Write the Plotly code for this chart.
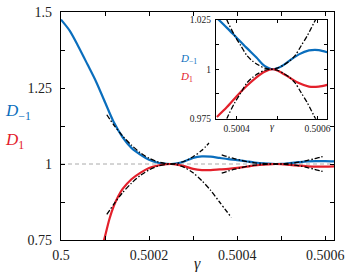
import plotly.graph_objects as go

# ---------------- data ----------------
# main panel: D_{-1} (blue)
G_BLUE = [0.5, 0.50002, 0.50004, 0.50006, 0.50008, 0.5001, 0.50012, 0.50014, 0.50016,
          0.50018, 0.5002, 0.50022, 0.50024, 0.50025, 0.50026, 0.50028, 0.5003, 0.50032,
          0.50034, 0.50036, 0.50038, 0.5004, 0.50042, 0.50044, 0.50046, 0.50048, 0.5005,
          0.50052, 0.50054, 0.50056, 0.50058, 0.5006, 0.50062]
D_MINUS1 = [1.475, 1.438, 1.385, 1.328, 1.270, 1.203, 1.137, 1.088, 1.053,
            1.031, 1.014, 1.004, 1.0005, 1.0, 1.001, 1.008, 1.020, 1.025,
            1.024, 1.020, 1.016, 1.013, 1.009, 1.005, 1.002, 1.0002, 1.0005,
            1.003, 1.006, 1.0085, 1.0095, 1.0095, 1.0088]

# main panel: D_1 (red)
G_RED = [0.500095, 0.5001, 0.50011, 0.50012, 0.50013, 0.50014, 0.50016, 0.50018, 0.5002,
         0.50022, 0.50024, 0.50025, 0.50026, 0.50028, 0.5003, 0.50032, 0.50034, 0.50036,
         0.50038, 0.5004, 0.50042, 0.50044, 0.50046, 0.50048, 0.5005, 0.50052, 0.50054,
         0.50056, 0.50058, 0.5006, 0.50062]
D_PLUS1 = [0.735, 0.762, 0.819, 0.862, 0.894, 0.918, 0.950, 0.971, 0.987,
           0.995, 0.9993, 1.0, 0.999, 0.993, 0.984, 0.980, 0.980, 0.982,
           0.984, 0.987, 0.991, 0.995, 0.998, 0.9998, 0.9995, 0.997, 0.9945,
           0.9925, 0.9913, 0.9913, 0.992]

# asymptotic (dash-dot) curves near the first touching point
G_ASY1_UP = [0.500104, 0.50012, 0.50014, 0.50016, 0.50018, 0.5002, 0.50022, 0.50024,
             0.50025, 0.50026, 0.50028, 0.5003, 0.50032, 0.500336]
ASY1_UP = [1.162, 1.128, 1.092, 1.062, 1.037, 1.019, 1.007, 1.001,
           1.0, 1.001, 1.009, 1.024, 1.045, 1.069]
G_ASY1_LO = [0.500104, 0.50012, 0.50014, 0.50016, 0.50018, 0.5002, 0.50022, 0.50024,
             0.50025, 0.50026, 0.50028, 0.5003, 0.50032, 0.50034, 0.50036, 0.500387]
ASY1_LO = [0.834, 0.868, 0.906, 0.937, 0.962, 0.9805, 0.993, 0.9992,
           1.0, 0.999, 0.989, 0.971, 0.945, 0.913, 0.875, 0.824]

# asymptotic (dash-dot) curves near the second touching point
G_ASY2 = [0.500365, 0.50038, 0.500395, 0.50041, 0.500425, 0.50044, 0.500455, 0.50047,
          0.500485, 0.5005, 0.500515, 0.50053, 0.500545, 0.50056, 0.500575, 0.50059, 0.500598]
ASY2_UP = [1.030, 1.023, 1.017, 1.012, 1.007, 1.004, 1.002, 1.0005,
           1.0, 1.0005, 1.002, 1.004, 1.007, 1.012, 1.017, 1.023, 1.026]
ASY2_LO = [0.970, 0.977, 0.983, 0.988, 0.993, 0.996, 0.998, 0.9995,
           1.0, 0.9995, 0.998, 0.996, 0.993, 0.988, 0.983, 0.977, 0.974]

# inset panel
G_INSET = [0.500351, 0.500376, 0.5004, 0.500424, 0.500449, 0.500469, 0.50049, 0.50051,
           0.50053, 0.500554, 0.500579, 0.500603, 0.500624]
INSET_BLUE = [1.0259, 1.0209, 1.0159, 1.0109, 1.0059, 1.0017, 1.0, 1.0014,
              1.0042, 1.0075, 1.0095, 1.0097, 1.0086]
INSET_RED = [0.9759, 0.9809, 0.9864, 0.9914, 0.9959, 0.9987, 1.0, 0.9984,
             0.9959, 0.993, 0.9912, 0.9912, 0.9921]

REF_LEVEL = 1.0

X_RANGE = [0.5, 0.50062]
Y_RANGE = [0.75, 1.5]
X_TICKS = [0.5, 0.5002, 0.5004, 0.5006]
X_TICK_TEXT = ["0.5", "0.5002", "0.5004", "0.5006"]
X_MINOR = [0.5001, 0.5003, 0.5005]
Y_TICKS = [0.75, 1.0, 1.25, 1.5]
Y_TICK_TEXT = ["0.75", "1", "1.25", "1.5"]
Y_MINOR = [0.875, 1.125, 1.375]

IX_RANGE = [0.500349, 0.500624]
IY_RANGE = [0.975, 1.025]
IX_TICKS = [0.5004, 0.5006]
IX_TICK_TEXT = ["0.5004", "0.5006"]
IX_MINOR = [0.5005]
IY_TICKS = [0.975, 1.0, 1.025]
IY_TICK_TEXT = ["0.975", "1", "1.025"]
IY_MINOR = [0.9875, 1.0125]

BLUE = "#0a6ebd"
RED = "#e3202b"
SERIF = "Liberation Serif"
DASHDOT = "5px,2px,1.5px,2px"

fig = go.Figure()

def line_trace(x, y, color, width, dash="solid", xa="x", ya="y"):
    return go.Scatter(x=x, y=y, mode="lines", xaxis=xa, yaxis=ya,
                      line=dict(color=color, width=width, dash=dash, shape="spline", smoothing=0.8),
                      showlegend=False, hoverinfo="skip", cliponaxis=True)

# main
fig.add_trace(line_trace(G_BLUE, D_MINUS1, BLUE, 2.2))
fig.add_trace(line_trace(G_RED, D_PLUS1, RED, 2.2))
fig.add_trace(line_trace(G_ASY1_UP, ASY1_UP, "black", 1.3, DASHDOT))
fig.add_trace(line_trace(G_ASY1_LO, ASY1_LO, "black", 1.3, DASHDOT))
fig.add_trace(line_trace(G_ASY2, ASY2_UP, "black", 1.3, DASHDOT))
fig.add_trace(line_trace(G_ASY2, ASY2_LO, "black", 1.3, DASHDOT))

# inset
fig.add_trace(line_trace(G_INSET, INSET_BLUE, BLUE, 2.2, xa="x2", ya="y2"))
fig.add_trace(line_trace(G_INSET, INSET_RED, RED, 2.2, xa="x2", ya="y2"))
fig.add_trace(line_trace(G_ASY2, ASY2_UP, "black", 1.3, DASHDOT, xa="x2", ya="y2"))
fig.add_trace(line_trace(G_ASY2, ASY2_LO, "black", 1.3, DASHDOT, xa="x2", ya="y2"))

shapes = [
    dict(type="line", xref="x domain", yref="y", x0=0, x1=1, y0=REF_LEVEL, y1=REF_LEVEL,
         line=dict(color="#aaaaaa", width=1, dash="4px,3px"), layer="below"),
    dict(type="rect", xref="x2 domain", yref="y2 domain", x0=0, x1=1, y0=0, y1=1,
         fillcolor="#f5f5f5", line=dict(width=0), layer="below"),
    dict(type="line", xref="x2 domain", yref="y2", x0=0, x1=1, y0=REF_LEVEL, y1=REF_LEVEL,
         line=dict(color="#aaaaaa", width=1, dash="4px,3px"), layer="below"),
]

def axis(rng, tv, tt, minor, size, ticklen, domain=None, anchor=None, standoff=2):
    d = dict(range=rng, tickvals=tv, ticktext=tt, ticks="inside", ticklen=ticklen,
             tickwidth=1, tickcolor="black", mirror="ticks", showline=True,
             linecolor="black", linewidth=1.3, showgrid=False, zeroline=False,
             minor=dict(tickvals=minor, ticks="inside", ticklen=ticklen, tickwidth=1,
                        tickcolor="black", showgrid=False),
             tickfont=dict(family=SERIF, size=size, color="#222"),
             ticklabelstandoff=standoff, ticklabeloverflow="allow", fixedrange=True)
    if domain is not None:
        d["domain"] = domain
    if anchor is not None:
        d["anchor"] = anchor
    return d

annotations = [
    dict(text="<i>γ</i>", xref="paper", yref="paper", x=0.5, y=-0.106, showarrow=False,
         font=dict(family=SERIF, size=16, color="#222"), xanchor="center", yanchor="middle"),
    dict(text="<i>D</i><sub>−1</sub>", xref="paper", yref="paper", x=-0.212, y=0.562,
         showarrow=False, font=dict(family=SERIF, size=17, color=BLUE),
         xanchor="left", yanchor="middle"),
    dict(text="<i>D</i><sub>1</sub>", xref="paper", yref="paper", x=-0.212, y=0.435,
         showarrow=False, font=dict(family=SERIF, size=17, color=RED),
         xanchor="left", yanchor="middle"),
    dict(text="<i>D</i><sub>−1</sub>", xref="paper", yref="paper", x=0.43, y=0.795,
         showarrow=False, font=dict(family=SERIF, size=11, color=BLUE),
         xanchor="left", yanchor="middle"),
    dict(text="<i>D</i><sub>1</sub>", xref="paper", yref="paper", x=0.43, y=0.715,
         showarrow=False, font=dict(family=SERIF, size=11, color=RED),
         xanchor="left", yanchor="middle"),
    dict(text="<i>γ</i>", xref="paper", yref="paper", x=0.775, y=0.5, showarrow=False,
         font=dict(family=SERIF, size=10, color="#222"), xanchor="center", yanchor="middle"),
]

fig.update_layout(
    width=349, height=272,
    margin=dict(l=61, r=10, t=5, b=32, pad=0),
    paper_bgcolor="white", plot_bgcolor="white",
    xaxis=axis(X_RANGE, X_TICKS, X_TICK_TEXT, X_MINOR, 14, 4, standoff=2),
    yaxis=axis(Y_RANGE, Y_TICKS, Y_TICK_TEXT, Y_MINOR, 14, 4, standoff=5),
    xaxis2=axis(IX_RANGE, IX_TICKS, IX_TICK_TEXT, IX_MINOR, 9.5, 3,
                domain=[0.568, 0.975], anchor="y2", standoff=1),
    yaxis2=axis(IY_RANGE, IY_TICKS, IY_TICK_TEXT, IY_MINOR, 9.5, 3,
                domain=[0.532, 0.966], anchor="x2", standoff=2),
    shapes=shapes,
    annotations=annotations,
    showlegend=False,
)

fig.write_html("out.html", config={"displayModeBar": False},
               post_script="document.body.style.margin='0';document.body.style.padding='0';")
